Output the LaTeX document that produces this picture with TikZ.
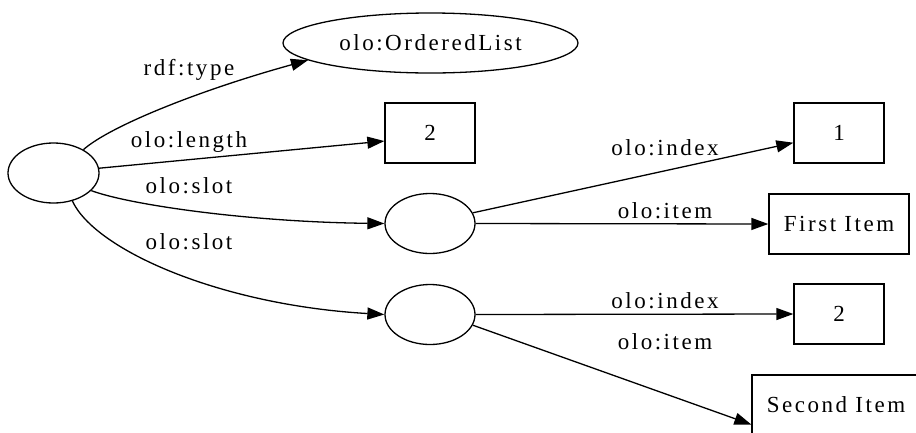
\documentclass[tikz,border=0pt]{standalone}
\usepackage{fontspec}
\setmainfont{Liberation Serif}[LetterSpace=11]
\usetikzlibrary{arrows.meta,shapes.geometric}
\begin{document}
\begin{tikzpicture}[x=1pt,y=-1pt,
  every node/.style={font=\fontsize{23}{28}\selectfont},
  res/.style={draw,ellipse,line width=1.3pt,inner sep=0pt,minimum width=90pt,minimum height=60pt},
  lit/.style={draw,rectangle,line width=1.3pt,inner sep=0pt,minimum width=90pt,minimum height=60pt},
  edge/.style={line width=1.3pt,-{Triangle[length=17pt,width=12pt]}},
  lbl/.style={anchor=base,inner sep=0pt}]
\useasboundingbox (0,0) rectangle (916,432);
\clip (0,0) rectangle (916,432);

% resources
\node[res,minimum width=91pt] (root) at (53.5,173) {};
\node[res,minimum width=295pt] (ol) at (430.5,43) {olo:OrderedList};
\node[res] (s1) at (430,223.5) {};
\node[res] (s2) at (430,314.5) {};

% literals
\node[lit] (len) at (430,133) {2};
\node[lit] (idx1) at (839,133) {1};
\node[lit,minimum width=140pt] (it1) at (839,224) {First Item};
\node[lit] (idx2) at (839,314) {2};
\node[lit,minimum width=168pt] (it2) at (836,405) {Second Item};

% properties of the list
\draw[edge] (root.38) .. controls (110,126) and (200,90) .. (ol.188);
\draw[edge] (root.6) -- (len.190);
\draw[edge] (root.-25) .. controls (130,205) and (250,222) .. (s1.180);
\draw[edge] (root.-56) .. controls (95,250) and (220,305) .. (s2.180);

% slot contents
\draw[edge] (s1.14) -- (idx1.192.5);
\draw[edge] (s1.east) -- (it1.west);
\draw[edge] (s2.east) -- (idx2.west);
\draw[edge] (s2.-14) -- (it2.193.4);

% property labels
\node[lbl] (l1) at (189,75) {rdf:type};
\node[lbl] (l2) at (189,147) {olo:length};
\node[lbl] (l3) at (189,193) {olo:slot};
\node[lbl] (l4) at (189,249) {olo:slot};
\node[lbl] (l5) at (665,155) {olo:index};
\node[lbl] (l6) at (665,218) {olo:item};
\node[lbl] (l7) at (665,308) {olo:index};
\node[lbl] (l8) at (665,349) {olo:item};
\end{tikzpicture}
\end{document}
